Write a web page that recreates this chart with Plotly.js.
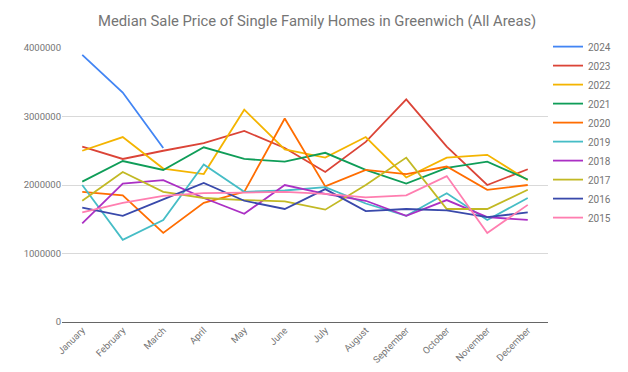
<!DOCTYPE html>
<html>
<head>
<meta charset="utf-8">
<script src="https://cdn.plot.ly/plotly-3.0.1.min.js"></script>
<style>html,body{margin:0;padding:0;background:#fff;}#chart{width:628px;height:372px;}</style>
</head>
<body>
<div id="chart"></div>
<script>
var months = ["January","February","March","April","May","June","July","August","September","October","November","December"];
var years = ["2024","2023","2022","2021","2020","2019","2018","2017","2016","2015"];
var colors = ["#4285f4","#db4437","#f4b400","#0f9d58","#ff6d01","#46bdc6","#ab30c4","#c2b924","#3949ab","#ff7eb0"];

var v2024 = [3900000, 3350000, 2540000];
var v2023 = [2560000, 2380000, 2500000, 2610000, 2790000, 2540000, 2190000, 2630000, 3250000, 2560000, 2000000, 2230000];
var v2022 = [2500000, 2700000, 2240000, 2160000, 3100000, 2520000, 2400000, 2700000, 2110000, 2400000, 2440000, 2070000];
var v2021 = [2050000, 2350000, 2220000, 2550000, 2380000, 2340000, 2470000, 2220000, 2020000, 2250000, 2340000, 2080000];
var v2020 = [1900000, 1850000, 1300000, 1740000, 1900000, 2970000, 1980000, 2220000, 2160000, 2270000, 1930000, 2000000];
var v2019 = [2000000, 1200000, 1490000, 2300000, 1900000, 1920000, 1970000, 1730000, 1550000, 1880000, 1490000, 1810000];
var v2018 = [1440000, 2020000, 2070000, 1810000, 1580000, 2000000, 1870000, 1770000, 1550000, 1780000, 1530000, 1490000];
var v2017 = [1770000, 2190000, 1900000, 1810000, 1780000, 1760000, 1640000, 2000000, 2400000, 1650000, 1650000, 1930000];
var v2016 = [1670000, 1550000, 1790000, 2030000, 1770000, 1650000, 1940000, 1620000, 1650000, 1630000, 1530000, 1600000];
var v2015 = [1600000, 1740000, 1840000, 1880000, 1890000, 1900000, 1870000, 1820000, 1850000, 2130000, 1300000, 1710000];

var series = [v2024, v2023, v2022, v2021, v2020, v2019, v2018, v2017, v2016, v2015];

var traces = series.map(function (vals, i) {
  return {
    type: "scatter",
    mode: "lines",
    name: years[i],
    x: months.slice(0, vals.length),
    y: vals,
    line: {color: colors[i], width: 1.8},
    hoverinfo: "x+y+name"
  };
});

var layout = {
  width: 628,
  height: 372,
  paper_bgcolor: "#ffffff",
  plot_bgcolor: "#ffffff",
  margin: {l: 62, r: 78, t: 48, b: 50},
  font: {family: "Roboto, Arial, sans-serif", color: "#757575", size: 10},
  title: {
    text: "Median Sale Price of Single Family Homes in Greenwich (All Areas)",
    font: {family: "Roboto, Arial, sans-serif", size: 14.8, color: "#757575"},
    x: 0.505, xanchor: "center", y: 0.945, yanchor: "middle"
  },
  xaxis: {
    type: "category",
    categoryorder: "array",
    categoryarray: months,
    range: [-0.5, 11.5],
    tickangle: -45,
    showgrid: false,
    zeroline: false,
    showline: false,
    ticks: "",
    tickfont: {size: 9.5, color: "#757575"},
    fixedrange: true
  },
  yaxis: {
    range: [0, 4000000],
    tickvals: [0, 1000000, 2000000, 3000000, 4000000],
    ticktext: ["0", "1000000", "2000000", "3000000", "4000000"],
    showgrid: true,
    gridcolor: "#d9d9d9",
    gridwidth: 1,
    zeroline: true,
    zerolinecolor: "#666666",
    zerolinewidth: 1.3,
    showline: false,
    ticks: "",
    tickfont: {size: 9.5, color: "#757575"},
    fixedrange: true
  },
  showlegend: true,
  legend: {
    x: 1.0, xanchor: "left",
    y: 1.058, yanchor: "top",
    font: {size: 10, color: "#757575"},
    itemwidth: 30,
    maxheight: 340,
    bgcolor: "rgba(0,0,0,0)",
    traceorder: "normal"
  },
  hovermode: "closest"
};

Plotly.newPlot("chart", traces, layout, {displayModeBar: false});
</script>
</body>
</html>
